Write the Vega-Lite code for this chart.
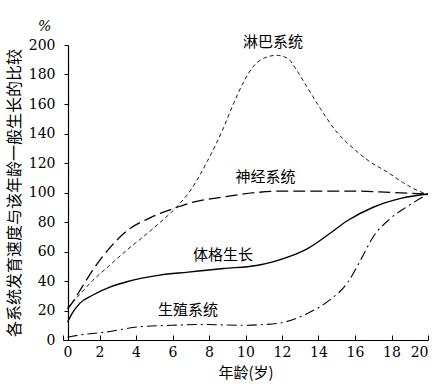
{
  "$schema": "https://vega.github.io/schema/vega-lite/v6.json",
  "width": 365,
  "height": 295,
  "autosize": {"type": "none"},
  "padding": {"left": 63, "top": 45, "right": 18, "bottom": 48},
  "background": "white",
  "config": {"view": {"stroke": null}},
  "datasets": {
    "curves": [
      {"system": "淋巴系统", "age": 0.25, "value": 22},
      {"system": "淋巴系统", "age": 1.0, "value": 32},
      {"system": "淋巴系统", "age": 1.64, "value": 40.5},
      {"system": "淋巴系统", "age": 2.5, "value": 50},
      {"system": "淋巴系统", "age": 3.5, "value": 61},
      {"system": "淋巴系统", "age": 4.4, "value": 70},
      {"system": "淋巴系统", "age": 5.3, "value": 79.5},
      {"system": "淋巴系统", "age": 6.25, "value": 90.5},
      {"system": "淋巴系统", "age": 6.96, "value": 101},
      {"system": "淋巴系统", "age": 7.9, "value": 121},
      {"system": "淋巴系统", "age": 8.8, "value": 144},
      {"system": "淋巴系统", "age": 9.3, "value": 159},
      {"system": "淋巴系统", "age": 9.9, "value": 175},
      {"system": "淋巴系统", "age": 10.4, "value": 185},
      {"system": "淋巴系统", "age": 11.2, "value": 192},
      {"system": "淋巴系统", "age": 11.7, "value": 193},
      {"system": "淋巴系统", "age": 12.3, "value": 191},
      {"system": "淋巴系统", "age": 12.8, "value": 183},
      {"system": "淋巴系统", "age": 13.2, "value": 175},
      {"system": "淋巴系统", "age": 14.1, "value": 157},
      {"system": "淋巴系统", "age": 15.0, "value": 141},
      {"system": "淋巴系统", "age": 15.9, "value": 130},
      {"system": "淋巴系统", "age": 16.8, "value": 121},
      {"system": "淋巴系统", "age": 17.75, "value": 114},
      {"system": "淋巴系统", "age": 18.6, "value": 107},
      {"system": "淋巴系统", "age": 19.7, "value": 100},
      {"system": "淋巴系统", "age": 20, "value": 99},
      {"system": "神经系统", "age": 0.25, "value": 21},
      {"system": "神经系统", "age": 0.55, "value": 26},
      {"system": "神经系统", "age": 1.0, "value": 35},
      {"system": "神经系统", "age": 1.64, "value": 47.5},
      {"system": "神经系统", "age": 2.6, "value": 63},
      {"system": "神经系统", "age": 3.5, "value": 74},
      {"system": "神经系统", "age": 4.8, "value": 83},
      {"system": "神经系统", "age": 6.25, "value": 90},
      {"system": "神经系统", "age": 7, "value": 93},
      {"system": "神经系统", "age": 8.8, "value": 97},
      {"system": "神经系统", "age": 10.6, "value": 100},
      {"system": "神经系统", "age": 12, "value": 101},
      {"system": "神经系统", "age": 14, "value": 101},
      {"system": "神经系统", "age": 16, "value": 101},
      {"system": "神经系统", "age": 18, "value": 100},
      {"system": "神经系统", "age": 20, "value": 99},
      {"system": "体格生长", "age": 0.25, "value": 12},
      {"system": "体格生长", "age": 0.5, "value": 18},
      {"system": "体格生长", "age": 0.93, "value": 25},
      {"system": "体格生长", "age": 1.64, "value": 30.5},
      {"system": "体格生长", "age": 2.6, "value": 36},
      {"system": "体格生长", "age": 3.5, "value": 39.5},
      {"system": "体格生长", "age": 5.3, "value": 44},
      {"system": "体格生长", "age": 6.85, "value": 46},
      {"system": "体格生长", "age": 8.8, "value": 48.5},
      {"system": "体格生长", "age": 10.6, "value": 50.5},
      {"system": "体格生长", "age": 11.5, "value": 53},
      {"system": "体格生长", "age": 12.5, "value": 57},
      {"system": "体格生长", "age": 13.4, "value": 62},
      {"system": "体格生长", "age": 14.6, "value": 72},
      {"system": "体格生长", "age": 15.6, "value": 81},
      {"system": "体格生长", "age": 17, "value": 90},
      {"system": "体格生长", "age": 18.5, "value": 96},
      {"system": "体格生长", "age": 20, "value": 99},
      {"system": "生殖系统", "age": 0.25, "value": 2},
      {"system": "生殖系统", "age": 1, "value": 3.5},
      {"system": "生殖系统", "age": 2.4, "value": 5.5},
      {"system": "生殖系统", "age": 4.2, "value": 9},
      {"system": "生殖系统", "age": 6, "value": 10},
      {"system": "生殖系统", "age": 7.5, "value": 10.5},
      {"system": "生殖系统", "age": 9.7, "value": 10},
      {"system": "生殖系统", "age": 11, "value": 10.5},
      {"system": "生殖系统", "age": 11.9, "value": 11.5},
      {"system": "生殖系统", "age": 13.4, "value": 18},
      {"system": "生殖系统", "age": 14.6, "value": 27},
      {"system": "生殖系统", "age": 15.6, "value": 39},
      {"system": "生殖系统", "age": 16.3, "value": 54},
      {"system": "生殖系统", "age": 17, "value": 70},
      {"system": "生殖系统", "age": 17.9, "value": 82},
      {"system": "生殖系统", "age": 18.8, "value": 90},
      {"system": "生殖系统", "age": 20, "value": 99}
    ],
    "labels": [
      {"label": "淋巴系统", "age": 11.5, "value": 202},
      {"label": "神经系统", "age": 11.1, "value": 110.5},
      {"label": "体格生长", "age": 8.77, "value": 57.6},
      {"label": "生殖系统", "age": 6.85, "value": 20.3}
    ],
    "unit": [{"label": "%", "age": -1, "value": 212}]
  },
  "encoding": {
    "x": {
      "field": "age", "type": "quantitative",
      "scale": {"domain": [0, 20], "nice": false, "zero": false},
      "axis": {
        "title": "年龄(岁)", "values": [0, 2, 4, 6, 8, 10, 12, 14, 16, 18, 20],
        "grid": false, "domainColor": "black", "domainWidth": 1.2,
        "tickColor": "black", "tickSize": -5, "labelPadding": 10,
        "labelFont": "DejaVu Serif", "labelFontSize": 14, "labelColor": "black",
        "titleFont": "Noto Sans CJK SC", "titleFontSize": 15, "titleFontWeight": "normal",
        "titleColor": "black", "titlePadding": 6
      }
    },
    "y": {
      "field": "value", "type": "quantitative",
      "scale": {"domain": [0, 200], "nice": false},
      "axis": {
        "title": "各系统发育速度与该年龄一般生长的比较",
        "values": [0, 20, 40, 60, 80, 100, 120, 140, 160, 180, 200],
        "grid": false, "domainColor": "black", "domainWidth": 1.2, "offset": -5,
        "tickColor": "black", "tickSize": 4, "labelPadding": 9,
        "labelFont": "DejaVu Serif", "labelFontSize": 14, "labelColor": "black",
        "titleFont": "Noto Sans CJK SC", "titleFontSize": 16, "titleFontWeight": "normal",
        "titleColor": "black", "titlePadding": 6
      }
    }
  },
  "layer": [
    {
      "data": {"name": "curves"},
      "transform": [{"filter": "datum.system === '淋巴系统'"}],
      "mark": {"type": "line", "interpolate": "monotone", "color": "black", "strokeWidth": 0.9, "strokeDash": [4, 3]}
    },
    {
      "data": {"name": "curves"},
      "transform": [{"filter": "datum.system === '神经系统'"}],
      "mark": {"type": "line", "interpolate": "monotone", "color": "black", "strokeWidth": 1.3, "strokeDash": [12, 5]}
    },
    {
      "data": {"name": "curves"},
      "transform": [{"filter": "datum.system === '体格生长'"}],
      "mark": {"type": "line", "interpolate": "monotone", "color": "black", "strokeWidth": 1.4}
    },
    {
      "data": {"name": "curves"},
      "transform": [{"filter": "datum.system === '生殖系统'"}],
      "mark": {"type": "line", "interpolate": "monotone", "color": "black", "strokeWidth": 1.1, "strokeDash": [10, 4, 2, 4]}
    },
    {
      "data": {"name": "labels"},
      "mark": {"type": "text", "font": "Noto Sans CJK SC", "fontSize": 15, "color": "black", "align": "center", "baseline": "middle"},
      "encoding": {"text": {"field": "label"}}
    },
    {
      "data": {"name": "unit"},
      "mark": {"type": "text", "font": "DejaVu Serif", "fontStyle": "italic", "fontSize": 14, "color": "black", "align": "center", "baseline": "middle"},
      "encoding": {"text": {"field": "label"}}
    }
  ]
}
